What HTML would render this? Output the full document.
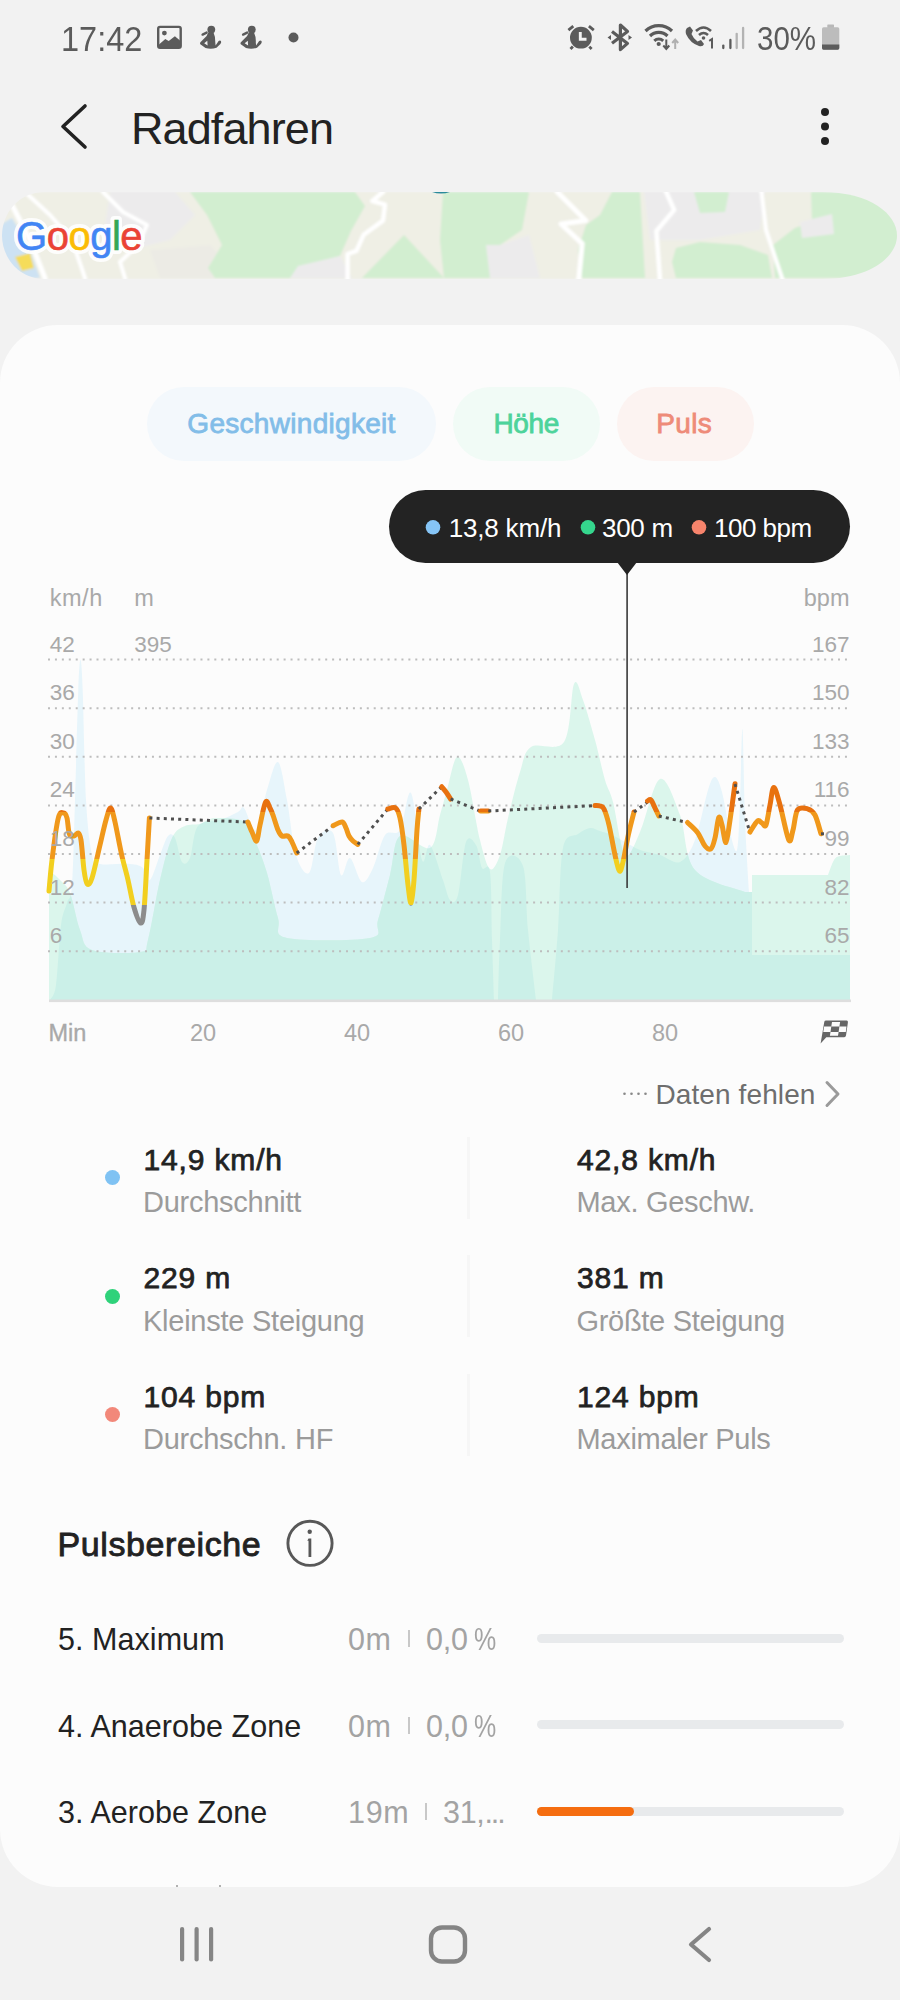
<!DOCTYPE html>
<html><head><meta charset="utf-8"><title>Radfahren</title>
<style>
html,body{margin:0;padding:0;}
body{width:900px;height:2000px;overflow:hidden;background:#f2f2f2;position:relative;font-family:"Liberation Sans", sans-serif;}
.abs{position:absolute;}
.t{position:absolute;white-space:nowrap;line-height:1.117;}
.pill{border-radius:37px;}
</style></head><body>
<svg class="abs" style="left:0;top:0" width="900" height="80"><rect x="158.2" y="26.9" width="22.5" height="20.9" rx="1.8" fill="none" stroke="#5b5b5b" stroke-width="2.4"/><path d="M159 44.5 L165.3 39.1 L168.7 40.9 L174.9 36.2 L180 40.5 L180 47.5 L159 47.5 Z" fill="#5b5b5b"/><circle cx="164.4" cy="33.1" r="2.4" fill="#5b5b5b"/><g transform="translate(195,20)"><circle cx="16.3" cy="9.6" r="3.9" fill="#5b5b5b"/><path d="M7.6 14.6 L11.6 12.6" stroke="#5b5b5b" stroke-width="2.4" stroke-linecap="round"/><path fill-rule="evenodd" d="M13.2 12.5 L18.6 12.8 Q20.6 17 20.3 22.5 L20.6 25.5 L23.6 21 Q25 19.8 26 21 Q26.6 22.5 25.4 24 L21.5 27.8 Q16 29.5 10.5 28 L5.3 24.2 Q4.6 23.2 5.4 22.2 L11.6 16 Z M9.2 23.2 L12.3 20.8 L12.6 25.4 Z" fill="#5b5b5b"/></g><g transform="translate(235.5,20)"><circle cx="16.3" cy="9.6" r="3.9" fill="#5b5b5b"/><path d="M7.6 14.6 L11.6 12.6" stroke="#5b5b5b" stroke-width="2.4" stroke-linecap="round"/><path fill-rule="evenodd" d="M13.2 12.5 L18.6 12.8 Q20.6 17 20.3 22.5 L20.6 25.5 L23.6 21 Q25 19.8 26 21 Q26.6 22.5 25.4 24 L21.5 27.8 Q16 29.5 10.5 28 L5.3 24.2 Q4.6 23.2 5.4 22.2 L11.6 16 Z M9.2 23.2 L12.3 20.8 L12.6 25.4 Z" fill="#5b5b5b"/></g><circle cx="293.5" cy="37.5" r="5" fill="#5b5b5b"/><g><circle cx="580.9" cy="37.7" r="10.9" fill="#5b5b5b"/><path d="M580.3 32 L580.3 39.3 L586.5 39.3" fill="none" stroke="#f2f2f2" stroke-width="2.9"/><path d="M568.4 30.1 L573.3 26.1 M588.9 26.1 L593.8 30.1 M570.5 49 L572.9 46.6 M589.3 46.6 L591.6 49" stroke="#5b5b5b" stroke-width="2.8" stroke-linecap="butt"/></g><g><path d="M612 31.5 L627.5 43.4 L620.4 49.6 L620.4 25 L627.5 31.4 L612 43.3" fill="none" stroke="#5b5b5b" stroke-width="3.2" stroke-linejoin="round"/><path d="M607.5 37.5 L611 35 L611 40 Z M632 37.5 L628.5 35 L628.5 40 Z" fill="#5b5b5b"/></g><g><path d="M645.5 31 A19 19 0 0 1 672 31" fill="none" stroke="#5b5b5b" stroke-width="3.2"/><path d="M650 36 A12.5 12.5 0 0 1 667.5 36" fill="none" stroke="#5b5b5b" stroke-width="3.2"/><path d="M654.3 40.8 A6.5 6.5 0 0 1 663.2 40.8" fill="none" stroke="#5b5b5b" stroke-width="3"/><circle cx="658.7" cy="44" r="2.1" fill="#5b5b5b"/><path d="M666.3 39.5 L666.3 48.5 M663.3 45.5 L666.3 49 L669.3 45.5" fill="none" stroke="#5b5b5b" stroke-width="2"/><path d="M675.2 49 L675.2 40 M672.2 43 L675.2 39.5 L678.2 43" fill="none" stroke="#b0b0b0" stroke-width="2"/></g><g transform="translate(685,24)"><path d="M2 4 Q0 6 1 10 Q5 19 14 22 Q18 23 19 20 L16 16 L12.5 17.5 Q8 14 6.5 10 L8 6.5 L5 2.5 Z" fill="#5b5b5b"/><path d="M11 7 Q18.5 0 26 7" fill="none" stroke="#5b5b5b" stroke-width="2.6"/><path d="M14 11 Q18.5 7 23 11" fill="none" stroke="#5b5b5b" stroke-width="2.6"/><circle cx="18.5" cy="14" r="1.8" fill="#5b5b5b"/><path d="M24.2 16.8 L27 15 L27 24.5" fill="none" stroke="#5b5b5b" stroke-width="2"/></g><g stroke-linecap="round" stroke-width="2.3" fill="none"><path d="M723.3 45.6 L723.3 48" stroke="#5b5b5b"/><path d="M730.4 40 L730.4 48" stroke="#5b5b5b"/><path d="M736.7 33.8 L736.7 48" stroke="#b3b3b3"/><path d="M743.1 28 L743.1 48" stroke="#b3b3b3"/></g><rect x="827.3" y="24.4" width="6.7" height="3.5" rx="0.6" fill="#b8b8b8"/><rect x="822" y="27.3" width="17.3" height="22.4" rx="1.6" fill="#bcbcbc"/><path d="M822 44.5 L839.3 44.5 L839.3 48.1 Q839.3 49.7 837.7 49.7 L823.6 49.7 Q822 49.7 822 48.1 Z" fill="#5b5b5b"/></svg>
<svg class="abs" style="left:0;top:0" width="900" height="180"><path d="M85 106 L63 126.5 L85 147" fill="none" stroke="#222" stroke-width="3.6" stroke-linecap="round" stroke-linejoin="round"/><circle cx="825" cy="112" r="4" fill="#222"/><circle cx="825" cy="126.5" r="4" fill="#222"/><circle cx="825" cy="141" r="4" fill="#222"/></svg>
<div class="t" style="top:103.8px;font-size:45px;color:#222;letter-spacing:-0.9px;left:131.0px;">Radfahren</div>
<div class="t" style="top:19.9px;font-size:35.5px;color:#5b5b5b;left:60.5px;transform:scaleX(0.915);transform-origin:0 0;">17:42</div>
<div class="t" style="top:21.1px;font-size:33px;color:#5b5b5b;left:756.5px;transform:scaleX(0.895);transform-origin:0 0;">30%</div>
<svg class="abs" style="left:0;top:192px" width="900" height="87" viewBox="0 0 900 87"><defs><clipPath id="mc"><path d="M45 0 L822 0 C870 0 897 22 897 43.5 C897 65 870 87 822 87 L45 87 C18 87 2 65 2 43.5 C2 22 18 0 45 0 Z"/></clipPath><filter id="mblur" x="-5%" y="-20%" width="110%" height="140%"><feGaussianBlur stdDeviation="1.2"/></filter></defs><g clip-path="url(#mc)"><g filter="url(#mblur)"><rect x="0" y="0" width="900" height="87" fill="#efefe5"/><path d="M110.0 0.0 L175.0 0.0 L195.0 23.0 L170.0 48.0 L130.0 58.0 L105.0 33.0 Z" fill="#ecebec"/><path d="M150.0 58.0 L210.0 53.0 L240.0 86.0 L160.0 86.0 Z" fill="#ecebe5"/><path d="M190.0 0.0 L355.0 0.0 L365.0 14.0 L351.0 39.0 L340.0 64.0 L301.0 75.0 L290.0 86.0 L215.0 86.0 L208.0 76.0 L222.0 53.0 L207.0 23.0 Z" fill="#d2eed0"/><path d="M298.0 74.0 L340.0 64.0 L352.0 86.0 L290.0 86.0 Z" fill="#ecebec"/><path d="M362.0 86.0 L404.0 43.0 L444.0 86.0 Z" fill="#d2eed0"/><path d="M443.0 0.0 L529.0 0.0 L522.0 38.0 L500.0 53.0 L490.0 86.0 L444.0 86.0 L440.0 48.0 Z" fill="#d2eed0"/><path d="M486.0 53.0 L500.0 53.0 L529.0 43.0 L540.0 86.0 L490.0 86.0 Z" fill="#ecebec"/><path d="M586.0 33.0 L600.0 23.0 L612.0 0.0 L640.0 0.0 L645.0 86.0 L582.0 86.0 L578.0 58.0 Z" fill="#d2eed0"/><path d="M644.0 0.0 L765.0 0.0 L760.0 38.0 L700.0 48.0 L650.0 48.0 Z" fill="#ecebec"/><path d="M694.0 0.0 L729.0 0.0 L725.0 20.0 L700.0 21.0 Z" fill="#d2eed0"/><path d="M676.0 56.0 L700.0 50.0 L740.0 53.0 L768.0 63.0 L772.0 86.0 L676.0 86.0 L672.0 70.0 Z" fill="#d2eed0"/><path d="M775.0 86.0 L773.0 53.0 L795.0 36.0 L812.0 30.0 L811.0 0.0 L900.0 0.0 L900.0 86.0 Z" fill="#d2eed0"/><path d="M800.0 30.0 L832.0 22.0 L834.0 42.0 L802.0 46.0 Z" fill="#ecebec"/><path d="M0.0 33.0 L12.0 26.0 L28.0 53.0 L40.0 86.0 L0.0 86.0 Z" fill="#cde2f3"/><path d="M15.0 65.0 L30.0 61.0 L34.0 76.0 L22.0 79.0 Z" fill="#f5dc5a"/><path d="M12.0 13.0 L30.0 48.0 L45.0 86.0" fill="none" stroke="#ffffff" stroke-width="5" stroke-linejoin="round" stroke-linecap="round"/><path d="M25.0 0.0 L50.0 23.0 L72.0 48.0 L85.0 86.0" fill="none" stroke="#ffffff" stroke-width="4" stroke-linejoin="round" stroke-linecap="round"/><path d="M103.0 0.0 L123.0 20.0 L147.0 33.0 L138.0 53.0 L120.0 70.0 L125.0 86.0" fill="none" stroke="#ffffff" stroke-width="4" stroke-linejoin="round" stroke-linecap="round"/><path d="M383.0 0.0 L372.4 9.0 L385.0 12.6 L383.0 28.6 L363.6 42.8 L356.4 58.8 L347.6 62.0 L347.6 88.0" fill="none" stroke="#ffffff" stroke-width="4.5" stroke-linejoin="round" stroke-linecap="round"/><path d="M557.3 0.0 L585.8 28.6 L561.0 32.0 L582.2 51.7 L578.7 88.0" fill="none" stroke="#ffffff" stroke-width="5" stroke-linejoin="round" stroke-linecap="round"/><path d="M665.3 -2.0 L674.2 18.0 L656.4 39.0 L660.0 88.0" fill="none" stroke="#ffffff" stroke-width="4.5" stroke-linejoin="round" stroke-linecap="round"/><path d="M761.3 -2.0 L766.0 38.0 L782.7 88.0" fill="none" stroke="#ffffff" stroke-width="4" stroke-linejoin="round" stroke-linecap="round"/></g></g><path d="M432 0 L450 0 Q441 3.2 432 0 Z" fill="#2a8a9a"/><text x="16" y="58" font-family="Liberation Sans" font-size="40" fill="#fff" stroke="#fff" stroke-width="8" stroke-linejoin="round" letter-spacing="-0.5" opacity="0.9">Google</text><text x="16" y="58" font-family="Liberation Sans" font-size="40" stroke-width="0.6" letter-spacing="-0.5" style="paint-order:stroke"><tspan fill="#4285f4" stroke="#4285f4">G</tspan><tspan fill="#ea4335" stroke="#ea4335">o</tspan><tspan fill="#fbbc05" stroke="#fbbc05">o</tspan><tspan fill="#4285f4" stroke="#4285f4">g</tspan><tspan fill="#34a853" stroke="#34a853">l</tspan><tspan fill="#ea4335" stroke="#ea4335">e</tspan></text></svg>
<div class="abs" style="left:0;top:325px;width:900px;height:1562px;background:#fcfcfc;border-radius:58px;"></div>
<div class="abs pill" style="left:147px;top:387px;width:289px;height:74px;background:#f3f8fc"></div>
<div class="abs pill" style="left:453px;top:387px;width:147px;height:74px;background:#f1fbf6"></div>
<div class="abs pill" style="left:617px;top:387px;width:137px;height:74px;background:#fcf3f1"></div>
<div class="t" style="top:408.2px;font-size:28px;color:#82bde8;letter-spacing:0.3px;left:187.3px;-webkit-text-stroke:0.8px #82bde8;">Geschwindigkeit</div>
<div class="t" style="top:408.2px;font-size:28px;color:#4dd39b;letter-spacing:-0.4px;left:493.5px;-webkit-text-stroke:0.8px #4dd39b;">Höhe</div>
<div class="t" style="top:408.2px;font-size:28px;color:#ee8b79;letter-spacing:0.3px;left:656.3px;-webkit-text-stroke:0.8px #ee8b79;">Puls</div>
<svg class="abs" style="left:0;top:560px" width="900" height="500" viewBox="0 560 900 500"><defs><clipPath id="clipB"><path d="M49.0 1000.0 L50.0 1000.0 L50.0 1000.0 C51.0 997.5 54.2 997.5 56.0 985.0 C57.8 972.5 59.2 938.7 61.0 925.0 C62.8 911.3 65.2 909.7 67.0 903.0 C68.8 896.3 70.7 902.2 72.0 885.0 C73.3 867.8 74.0 832.5 75.0 800.0 C76.0 767.5 77.4 713.3 78.3 690.0 C79.2 666.7 79.8 660.0 80.5 660.0 C81.2 660.0 81.8 666.7 82.7 690.0 C83.6 713.3 84.5 772.5 86.0 800.0 C87.5 827.5 89.7 844.3 92.0 855.0 C94.3 865.7 93.7 862.5 100.0 864.0 C106.3 865.5 122.8 863.3 130.0 864.0 C137.2 864.7 139.7 865.3 143.0 868.0 C146.3 870.7 147.2 882.2 150.0 880.0 C152.8 877.8 157.0 862.3 160.0 855.0 C163.0 847.7 165.5 838.8 168.0 836.0 C170.5 833.2 172.7 833.7 175.0 838.0 C177.3 842.3 179.5 858.7 182.0 862.0 C184.5 865.3 187.3 864.0 190.0 858.0 C192.7 852.0 193.0 832.3 198.0 826.0 C203.0 819.7 213.3 822.3 220.0 820.0 C226.7 817.7 234.0 814.0 238.0 812.0 C242.0 810.0 241.0 805.0 244.0 808.0 C247.0 811.0 252.2 833.0 256.0 830.0 C259.8 827.0 263.3 801.3 267.0 790.0 C270.7 778.7 274.7 760.3 278.0 762.0 C281.3 763.7 284.0 784.5 287.0 800.0 C290.0 815.5 292.3 842.8 296.0 855.0 C299.7 867.2 305.3 875.8 309.0 873.0 C312.7 870.2 314.0 844.7 318.0 838.0 C322.0 831.3 329.2 826.8 333.0 833.0 C336.8 839.2 338.2 870.8 341.0 875.0 C343.8 879.2 346.5 856.8 350.0 858.0 C353.5 859.2 358.2 880.3 362.0 882.0 C365.8 883.7 369.2 875.8 373.0 868.0 C376.8 860.2 380.5 841.3 385.0 835.0 C389.5 828.7 395.7 837.0 400.0 830.0 C404.3 823.0 407.3 788.0 411.0 793.0 C414.7 798.0 418.8 851.3 422.0 860.0 C425.2 868.7 426.5 841.7 430.0 845.0 C433.5 848.3 439.7 870.8 443.0 880.0 C446.3 889.2 447.5 897.5 450.0 900.0 C452.5 902.5 455.3 904.7 458.0 895.0 C460.7 885.3 463.0 850.3 466.0 842.0 C469.0 833.7 473.3 840.7 476.0 845.0 C478.7 849.3 479.7 863.5 482.0 868.0 C484.3 872.5 488.3 860.0 490.0 872.0 C491.7 884.0 491.3 918.7 492.0 940.0 C492.7 961.3 493.7 990.0 494.0 1000.0 L498.0 1000.0 C498.3 990.0 498.8 962.8 500.0 940.0 C501.2 917.2 501.2 875.3 505.0 863.0 C508.8 850.7 519.2 854.8 523.0 866.0 C526.8 877.2 525.8 907.7 528.0 930.0 C530.2 952.3 534.7 988.3 536.0 1000.0 L552.0 1000.0 C553.0 988.3 556.2 955.3 558.0 930.0 C559.8 904.7 559.7 864.0 563.0 848.0 C566.3 832.0 573.5 837.3 578.0 834.0 C582.5 830.7 586.3 828.5 590.0 828.0 C593.7 827.5 596.3 829.8 600.0 831.0 C603.7 832.2 607.8 833.2 612.0 835.0 C616.2 836.8 620.3 839.5 625.0 842.0 C629.7 844.5 634.2 847.8 640.0 850.0 C645.8 852.2 653.3 853.0 660.0 855.0 C666.7 857.0 674.2 864.5 680.0 862.0 C685.8 859.5 690.3 852.0 695.0 840.0 C699.7 828.0 704.7 800.5 708.0 790.0 C711.3 779.5 712.7 776.7 715.0 777.0 C717.3 777.3 719.5 782.8 722.0 792.0 C724.5 801.2 727.5 822.3 730.0 832.0 C732.5 841.7 735.3 855.3 737.0 850.0 C738.7 844.7 739.1 820.2 740.0 800.0 C740.9 779.8 741.7 725.7 742.5 729.0 C743.3 732.3 743.9 792.8 745.0 820.0 C746.1 847.2 748.3 880.0 749.0 892.0 L752.0 892.0 L752.0 955.0 L850.0 955.0 L850.0 1000.0 Z"/></clipPath><linearGradient id="hrg" gradientUnits="userSpaceOnUse" x1="0" y1="760" x2="0" y2="940"><stop offset="0" stop-color="#e8710f"/><stop offset="0.289" stop-color="#e8710f"/><stop offset="0.289" stop-color="#f0981b"/><stop offset="0.55" stop-color="#f0981b"/><stop offset="0.55" stop-color="#f2cf1f"/><stop offset="0.805" stop-color="#f2cf1f"/><stop offset="0.805" stop-color="#8c8c8c"/><stop offset="1" stop-color="#8c8c8c"/></linearGradient></defs><path d="M49.0 1000.0 L50.0 1000.0 L50.0 1000.0 C51.0 997.5 54.2 997.5 56.0 985.0 C57.8 972.5 59.2 938.7 61.0 925.0 C62.8 911.3 65.2 909.7 67.0 903.0 C68.8 896.3 70.7 902.2 72.0 885.0 C73.3 867.8 74.0 832.5 75.0 800.0 C76.0 767.5 77.4 713.3 78.3 690.0 C79.2 666.7 79.8 660.0 80.5 660.0 C81.2 660.0 81.8 666.7 82.7 690.0 C83.6 713.3 84.5 772.5 86.0 800.0 C87.5 827.5 89.7 844.3 92.0 855.0 C94.3 865.7 93.7 862.5 100.0 864.0 C106.3 865.5 122.8 863.3 130.0 864.0 C137.2 864.7 139.7 865.3 143.0 868.0 C146.3 870.7 147.2 882.2 150.0 880.0 C152.8 877.8 157.0 862.3 160.0 855.0 C163.0 847.7 165.5 838.8 168.0 836.0 C170.5 833.2 172.7 833.7 175.0 838.0 C177.3 842.3 179.5 858.7 182.0 862.0 C184.5 865.3 187.3 864.0 190.0 858.0 C192.7 852.0 193.0 832.3 198.0 826.0 C203.0 819.7 213.3 822.3 220.0 820.0 C226.7 817.7 234.0 814.0 238.0 812.0 C242.0 810.0 241.0 805.0 244.0 808.0 C247.0 811.0 252.2 833.0 256.0 830.0 C259.8 827.0 263.3 801.3 267.0 790.0 C270.7 778.7 274.7 760.3 278.0 762.0 C281.3 763.7 284.0 784.5 287.0 800.0 C290.0 815.5 292.3 842.8 296.0 855.0 C299.7 867.2 305.3 875.8 309.0 873.0 C312.7 870.2 314.0 844.7 318.0 838.0 C322.0 831.3 329.2 826.8 333.0 833.0 C336.8 839.2 338.2 870.8 341.0 875.0 C343.8 879.2 346.5 856.8 350.0 858.0 C353.5 859.2 358.2 880.3 362.0 882.0 C365.8 883.7 369.2 875.8 373.0 868.0 C376.8 860.2 380.5 841.3 385.0 835.0 C389.5 828.7 395.7 837.0 400.0 830.0 C404.3 823.0 407.3 788.0 411.0 793.0 C414.7 798.0 418.8 851.3 422.0 860.0 C425.2 868.7 426.5 841.7 430.0 845.0 C433.5 848.3 439.7 870.8 443.0 880.0 C446.3 889.2 447.5 897.5 450.0 900.0 C452.5 902.5 455.3 904.7 458.0 895.0 C460.7 885.3 463.0 850.3 466.0 842.0 C469.0 833.7 473.3 840.7 476.0 845.0 C478.7 849.3 479.7 863.5 482.0 868.0 C484.3 872.5 488.3 860.0 490.0 872.0 C491.7 884.0 491.3 918.7 492.0 940.0 C492.7 961.3 493.7 990.0 494.0 1000.0 L498.0 1000.0 C498.3 990.0 498.8 962.8 500.0 940.0 C501.2 917.2 501.2 875.3 505.0 863.0 C508.8 850.7 519.2 854.8 523.0 866.0 C526.8 877.2 525.8 907.7 528.0 930.0 C530.2 952.3 534.7 988.3 536.0 1000.0 L552.0 1000.0 C553.0 988.3 556.2 955.3 558.0 930.0 C559.8 904.7 559.7 864.0 563.0 848.0 C566.3 832.0 573.5 837.3 578.0 834.0 C582.5 830.7 586.3 828.5 590.0 828.0 C593.7 827.5 596.3 829.8 600.0 831.0 C603.7 832.2 607.8 833.2 612.0 835.0 C616.2 836.8 620.3 839.5 625.0 842.0 C629.7 844.5 634.2 847.8 640.0 850.0 C645.8 852.2 653.3 853.0 660.0 855.0 C666.7 857.0 674.2 864.5 680.0 862.0 C685.8 859.5 690.3 852.0 695.0 840.0 C699.7 828.0 704.7 800.5 708.0 790.0 C711.3 779.5 712.7 776.7 715.0 777.0 C717.3 777.3 719.5 782.8 722.0 792.0 C724.5 801.2 727.5 822.3 730.0 832.0 C732.5 841.7 735.3 855.3 737.0 850.0 C738.7 844.7 739.1 820.2 740.0 800.0 C740.9 779.8 741.7 725.7 742.5 729.0 C743.3 732.3 743.9 792.8 745.0 820.0 C746.1 847.2 748.3 880.0 749.0 892.0 L752.0 892.0 L752.0 955.0 L850.0 955.0 L850.0 1000.0 Z" fill="#e7f5fb"/><path d="M49.0 1000.0 L49.0 870.0 L49.0 870.0 C50.8 871.7 56.5 876.2 60.0 880.0 C63.5 883.8 66.7 884.7 70.0 893.0 C73.3 901.3 76.3 920.5 80.0 930.0 C83.7 939.5 82.0 946.3 92.0 950.0 C102.0 953.7 130.7 953.7 140.0 952.0 C149.3 950.3 144.7 952.0 148.0 940.0 C151.3 928.0 156.0 897.0 160.0 880.0 C164.0 863.0 167.8 847.0 172.0 838.0 C176.2 829.0 180.3 828.3 185.0 826.0 C189.7 823.7 195.0 825.3 200.0 824.0 C205.0 822.7 207.5 818.3 215.0 818.0 C222.5 817.7 238.2 817.8 245.0 822.0 C251.8 826.2 252.3 834.5 256.0 843.0 C259.7 851.5 263.3 860.5 267.0 873.0 C270.7 885.5 274.7 907.2 278.0 918.0 C281.3 928.8 271.7 934.7 287.0 938.0 C302.3 941.3 354.8 941.0 370.0 938.0 C385.2 935.0 374.7 930.5 378.0 920.0 C381.3 909.5 386.3 889.0 390.0 875.0 C393.7 861.0 393.3 840.5 400.0 836.0 C406.7 831.5 423.3 851.5 430.0 848.0 C436.7 844.5 437.2 824.7 440.0 815.0 C442.8 805.3 444.2 799.7 447.0 790.0 C449.8 780.3 453.5 758.7 457.0 757.0 C460.5 755.3 464.2 766.2 468.0 780.0 C471.8 793.8 476.3 825.2 480.0 840.0 C483.7 854.8 486.7 866.5 490.0 869.0 C493.3 871.5 497.0 863.5 500.0 855.0 C503.0 846.5 504.7 831.8 508.0 818.0 C511.3 804.2 516.2 783.8 520.0 772.0 C523.8 760.2 523.7 752.0 531.0 747.0 C538.3 742.0 556.8 752.5 564.0 742.0 C571.2 731.5 570.8 691.0 574.0 684.0 C577.2 677.0 579.5 690.7 583.0 700.0 C586.5 709.3 591.3 726.7 595.0 740.0 C598.7 753.3 602.0 769.7 605.0 780.0 C608.0 790.3 609.7 789.5 613.0 802.0 C616.3 814.5 620.5 850.0 625.0 855.0 C629.5 860.0 634.2 844.7 640.0 832.0 C645.8 819.3 653.3 781.8 660.0 779.0 C666.7 776.2 674.2 799.8 680.0 815.0 C685.8 830.2 684.2 857.2 695.0 870.0 C705.8 882.8 736.7 888.3 745.0 892.0 L752.0 892.0 L752.0 875.0 L828.0 875.0 C829.0 872.5 832.0 863.2 834.0 860.0 C836.0 856.8 837.3 856.8 840.0 856.0 C842.7 855.2 848.3 855.2 850.0 855.0 L850.0 1000.0 L850.0 1000.0 Z" fill="#dbf6ec"/><path d="M49.0 1000.0 L49.0 870.0 L49.0 870.0 C50.8 871.7 56.5 876.2 60.0 880.0 C63.5 883.8 66.7 884.7 70.0 893.0 C73.3 901.3 76.3 920.5 80.0 930.0 C83.7 939.5 82.0 946.3 92.0 950.0 C102.0 953.7 130.7 953.7 140.0 952.0 C149.3 950.3 144.7 952.0 148.0 940.0 C151.3 928.0 156.0 897.0 160.0 880.0 C164.0 863.0 167.8 847.0 172.0 838.0 C176.2 829.0 180.3 828.3 185.0 826.0 C189.7 823.7 195.0 825.3 200.0 824.0 C205.0 822.7 207.5 818.3 215.0 818.0 C222.5 817.7 238.2 817.8 245.0 822.0 C251.8 826.2 252.3 834.5 256.0 843.0 C259.7 851.5 263.3 860.5 267.0 873.0 C270.7 885.5 274.7 907.2 278.0 918.0 C281.3 928.8 271.7 934.7 287.0 938.0 C302.3 941.3 354.8 941.0 370.0 938.0 C385.2 935.0 374.7 930.5 378.0 920.0 C381.3 909.5 386.3 889.0 390.0 875.0 C393.7 861.0 393.3 840.5 400.0 836.0 C406.7 831.5 423.3 851.5 430.0 848.0 C436.7 844.5 437.2 824.7 440.0 815.0 C442.8 805.3 444.2 799.7 447.0 790.0 C449.8 780.3 453.5 758.7 457.0 757.0 C460.5 755.3 464.2 766.2 468.0 780.0 C471.8 793.8 476.3 825.2 480.0 840.0 C483.7 854.8 486.7 866.5 490.0 869.0 C493.3 871.5 497.0 863.5 500.0 855.0 C503.0 846.5 504.7 831.8 508.0 818.0 C511.3 804.2 516.2 783.8 520.0 772.0 C523.8 760.2 523.7 752.0 531.0 747.0 C538.3 742.0 556.8 752.5 564.0 742.0 C571.2 731.5 570.8 691.0 574.0 684.0 C577.2 677.0 579.5 690.7 583.0 700.0 C586.5 709.3 591.3 726.7 595.0 740.0 C598.7 753.3 602.0 769.7 605.0 780.0 C608.0 790.3 609.7 789.5 613.0 802.0 C616.3 814.5 620.5 850.0 625.0 855.0 C629.5 860.0 634.2 844.7 640.0 832.0 C645.8 819.3 653.3 781.8 660.0 779.0 C666.7 776.2 674.2 799.8 680.0 815.0 C685.8 830.2 684.2 857.2 695.0 870.0 C705.8 882.8 736.7 888.3 745.0 892.0 L752.0 892.0 L752.0 875.0 L828.0 875.0 C829.0 872.5 832.0 863.2 834.0 860.0 C836.0 856.8 837.3 856.8 840.0 856.0 C842.7 855.2 848.3 855.2 850.0 855.0 L850.0 1000.0 L850.0 1000.0 Z" fill="#cbf0e8" clip-path="url(#clipB)"/><line x1="48" y1="659.6" x2="851" y2="659.6" stroke="#bdbdbd" stroke-width="2" stroke-dasharray="2 4.93"/><line x1="48" y1="708.2" x2="851" y2="708.2" stroke="#bdbdbd" stroke-width="2" stroke-dasharray="2 4.93"/><line x1="48" y1="756.8" x2="851" y2="756.8" stroke="#bdbdbd" stroke-width="2" stroke-dasharray="2 4.93"/><line x1="48" y1="805.4" x2="851" y2="805.4" stroke="#bdbdbd" stroke-width="2" stroke-dasharray="2 4.93"/><line x1="48" y1="854.0" x2="851" y2="854.0" stroke="#bdbdbd" stroke-width="2" stroke-dasharray="2 4.93"/><line x1="48" y1="902.6" x2="851" y2="902.6" stroke="#bdbdbd" stroke-width="2" stroke-dasharray="2 4.93"/><line x1="48" y1="951.2" x2="851" y2="951.2" stroke="#bdbdbd" stroke-width="2" stroke-dasharray="2 4.93"/><rect x="49" y="999.5" width="802" height="2.6" fill="#dedede"/><path d="M49.0 891.0 C49.5 885.8 50.5 872.2 52.0 860.0 C53.5 847.8 56.3 825.8 58.3 818.0 C60.3 810.2 62.4 813.0 63.9 813.0 C65.3 813.0 66.1 814.5 67.0 818.0 C67.9 821.5 68.2 831.0 69.4 834.0 C70.6 837.0 72.5 836.2 74.0 836.0 C75.5 835.8 77.1 832.3 78.3 833.0 C79.5 833.7 80.0 833.8 81.0 840.0 C82.0 846.2 83.0 862.7 84.0 870.0 C85.0 877.3 85.9 882.7 87.2 884.0 C88.5 885.3 89.9 884.5 92.0 878.0 C94.1 871.5 97.7 854.7 100.0 845.0 C102.3 835.3 104.2 826.2 106.0 820.0 C107.8 813.8 109.1 807.7 110.6 808.0 C112.1 808.3 113.2 814.2 115.0 822.0 C116.8 829.8 119.5 845.3 121.7 855.0 C123.9 864.7 126.0 871.3 128.0 880.0 C130.0 888.7 131.8 899.8 133.9 907.0 C136.0 914.2 138.9 922.5 140.6 923.0 C142.3 923.5 142.9 920.5 144.0 910.0 C145.1 899.5 146.1 875.3 147.0 860.0 C147.9 844.7 149.0 825.0 149.4 818.0" fill="none" stroke="url(#hrg)" stroke-width="5" stroke-linecap="round" stroke-linejoin="round"/><path d="M149.4 818.0 L247.8 822.0" fill="none" stroke="#4f4f4f" stroke-width="3" stroke-dasharray="3 4.2"/><path d="M247.8 822.0 C248.5 823.7 250.5 828.8 252.0 832.0 C253.5 835.2 255.4 842.2 256.7 841.0 C258.0 839.8 258.5 831.5 260.0 825.0 C261.5 818.5 263.9 804.8 265.6 802.0 C267.3 799.2 268.7 805.7 270.0 808.0 C271.3 810.3 272.0 812.3 273.3 816.0 C274.6 819.7 276.6 826.7 278.0 830.0 C279.4 833.3 280.3 835.0 282.0 836.0 C283.7 837.0 286.3 835.0 288.0 836.0 C289.7 837.0 290.6 839.2 292.0 842.0 C293.4 844.8 295.9 851.2 296.7 853.0" fill="none" stroke="url(#hrg)" stroke-width="5" stroke-linecap="round" stroke-linejoin="round"/><path d="M296.7 853.0 L333.3 825.6" fill="none" stroke="#4f4f4f" stroke-width="3" stroke-dasharray="3 4.2"/><path d="M333.3 825.6 C334.8 825.0 340.1 821.6 342.2 822.0 C344.3 822.4 344.9 825.7 346.0 828.0 C347.1 830.3 347.8 833.8 349.0 836.0 C350.2 838.2 351.5 839.6 353.0 841.0 C354.5 842.4 357.0 843.8 357.8 844.4" fill="none" stroke="url(#hrg)" stroke-width="5" stroke-linecap="round" stroke-linejoin="round"/><path d="M357.8 844.4 L387.8 809.0" fill="none" stroke="#4f4f4f" stroke-width="3" stroke-dasharray="3 4.2"/><path d="M387.8 809.0 C389.1 808.8 393.6 806.5 395.6 808.0 C397.6 809.5 398.6 811.8 400.0 818.0 C401.4 824.2 402.7 833.8 404.0 845.0 C405.3 856.2 406.8 875.3 408.0 885.0 C409.2 894.7 410.1 903.8 411.1 903.0 C412.1 902.2 413.0 892.2 414.0 880.0 C415.0 867.8 416.2 841.8 417.0 830.0 C417.8 818.2 418.6 812.5 418.9 809.0" fill="none" stroke="url(#hrg)" stroke-width="5" stroke-linecap="round" stroke-linejoin="round"/><path d="M418.9 809.0 L441.7 786.7" fill="none" stroke="#4f4f4f" stroke-width="3" stroke-dasharray="3 4.2"/><path d="M441.7 786.7 C442.4 787.6 444.5 790.0 446.0 792.0 C447.5 794.0 449.8 797.8 450.6 799.0" fill="none" stroke="url(#hrg)" stroke-width="5" stroke-linecap="round" stroke-linejoin="round"/><path d="M450.6 799.0 L480.0 811.0" fill="none" stroke="#4f4f4f" stroke-width="3" stroke-dasharray="3 4.2"/><path d="M480.6 811.0 L488.3 811.0" fill="none" stroke="url(#hrg)" stroke-width="5" stroke-linecap="round" stroke-linejoin="round"/><path d="M488.3 811.0 L595.0 805.6" fill="none" stroke="#4f4f4f" stroke-width="3" stroke-dasharray="3 4.2"/><path d="M595.0 805.6 C595.8 805.7 598.5 805.4 600.0 806.0 C601.5 806.6 602.5 805.8 604.0 809.0 C605.5 812.2 607.2 817.3 609.0 825.0 C610.8 832.7 613.3 847.3 615.0 855.0 C616.7 862.7 618.1 869.8 619.4 871.0 C620.7 872.2 621.5 868.0 623.0 862.0 C624.5 856.0 626.5 843.3 628.3 835.0 C630.1 826.7 633.0 815.8 634.0 812.0" fill="none" stroke="url(#hrg)" stroke-width="5" stroke-linecap="round" stroke-linejoin="round"/><path d="M634.0 812.0 L647.5 802.0" fill="none" stroke="#4f4f4f" stroke-width="3" stroke-dasharray="3 4.2"/><path d="M647.5 801.0 C648.1 800.8 649.8 798.8 651.0 800.0 C652.2 801.2 653.7 805.3 655.0 808.0 C656.3 810.7 658.2 814.7 658.8 816.0" fill="none" stroke="url(#hrg)" stroke-width="5" stroke-linecap="round" stroke-linejoin="round"/><path d="M658.8 816.0 L687.5 822.5" fill="none" stroke="#4f4f4f" stroke-width="3" stroke-dasharray="3 4.2"/><path d="M687.5 822.5 C689.2 824.2 694.6 828.6 697.5 832.5 C700.4 836.4 702.8 843.3 705.0 846.0 C707.2 848.7 709.3 850.1 711.0 848.8 C712.7 847.5 713.7 843.2 715.0 838.0 C716.3 832.8 717.6 819.7 718.8 817.5 C720.0 815.3 720.8 820.8 722.0 825.0 C723.2 829.2 724.7 843.3 726.0 842.5 C727.3 841.7 728.5 829.8 730.0 820.0 C731.5 810.2 734.2 789.8 735.0 783.8" fill="none" stroke="url(#hrg)" stroke-width="5" stroke-linecap="round" stroke-linejoin="round"/><path d="M735.0 784.0 L750.0 832.5" fill="none" stroke="#4f4f4f" stroke-width="3" stroke-dasharray="3 4.2"/><path d="M750.0 832.0 C751.2 830.2 755.5 822.5 757.5 821.0 C759.5 819.5 760.6 822.3 762.0 823.0 C763.4 823.7 764.7 828.0 766.0 825.0 C767.3 822.0 768.7 811.2 770.0 805.0 C771.3 798.8 772.1 787.5 773.8 787.5 C775.5 787.5 777.5 796.2 780.0 805.0 C782.5 813.8 786.6 835.8 788.8 840.0 C791.0 844.2 791.5 835.0 793.0 830.0 C794.5 825.0 795.1 813.5 797.5 810.0 C799.9 806.5 804.6 808.0 807.5 808.8 C810.4 809.6 812.8 810.8 815.0 815.0 C817.2 819.2 820.0 830.7 821.0 833.8" fill="none" stroke="url(#hrg)" stroke-width="5" stroke-linecap="round" stroke-linejoin="round"/><path d="M821.0 833.8 L827.5 833.8" fill="none" stroke="#4f4f4f" stroke-width="3" stroke-dasharray="3 4.2"/><rect x="626.3" y="562" width="1.6" height="326" fill="#3a3a3a"/><g transform="translate(820,1020)"><path d="M4.3 1.8 Q4.6 0.6 6 0.6 L26.6 0.6 Q28.2 0.7 27.9 2.4 L26 15.6 Q25.7 17.2 24.2 17.2 L6.3 17.2 L0.6 23.6 Z" fill="#666"/><path d="M12 2.1 L20.1 2.1 L19.4 6.6 L11.3 6.6 Z M4.1 6.6 L11.3 6.6 L10.5 11.9 L3.3 11.9 Z M19.4 6.6 L26.5 6.6 L25.8 11.9 L18.6 11.9 Z M10.5 11.9 L18.6 11.9 L18 15.8 L9.9 15.8 Z" fill="#fcfcfc"/></g></svg>
<div class="t" style="top:585.0px;font-size:23.5px;color:#a9a9a9;letter-spacing:0.5px;left:49.8px;">km/h</div>
<div class="t" style="top:585.0px;font-size:23.5px;color:#a9a9a9;left:134.2px;">m</div>
<div class="t" style="top:585.0px;font-size:23.5px;color:#a9a9a9;right:50.5px;">bpm</div>
<div class="t" style="top:631.6px;font-size:22.5px;color:#a9a9a9;left:49.8px;">42</div>
<div class="t" style="top:631.6px;font-size:22.5px;color:#a9a9a9;right:50.5px;">167</div>
<div class="t" style="top:680.2px;font-size:22.5px;color:#a9a9a9;left:49.8px;">36</div>
<div class="t" style="top:680.2px;font-size:22.5px;color:#a9a9a9;right:50.5px;">150</div>
<div class="t" style="top:728.8px;font-size:22.5px;color:#a9a9a9;left:49.8px;">30</div>
<div class="t" style="top:728.8px;font-size:22.5px;color:#a9a9a9;right:50.5px;">133</div>
<div class="t" style="top:777.4px;font-size:22.5px;color:#a9a9a9;left:49.8px;">24</div>
<div class="t" style="top:777.4px;font-size:22.5px;color:#a9a9a9;right:50.5px;">116</div>
<div class="t" style="top:826.0px;font-size:22.5px;color:#a9a9a9;left:49.8px;">18</div>
<div class="t" style="top:826.0px;font-size:22.5px;color:#a9a9a9;right:50.5px;">99</div>
<div class="t" style="top:874.6px;font-size:22.5px;color:#a9a9a9;left:49.8px;">12</div>
<div class="t" style="top:874.6px;font-size:22.5px;color:#a9a9a9;right:50.5px;">82</div>
<div class="t" style="top:923.2px;font-size:22.5px;color:#a9a9a9;left:49.8px;">6</div>
<div class="t" style="top:923.2px;font-size:22.5px;color:#a9a9a9;right:50.5px;">65</div>
<div class="t" style="top:631.6px;font-size:22.5px;color:#a9a9a9;left:134.2px;">395</div>
<div class="t" style="top:1019.7px;font-size:23.5px;color:#a9a9a9;left:48.4px;-webkit-text-stroke:0.35px #a9a9a9;">Min</div>
<div class="t" style="top:1019.7px;font-size:23.5px;color:#a9a9a9;left:-97.0px;width:600px;text-align:center;">20</div>
<div class="t" style="top:1019.7px;font-size:23.5px;color:#a9a9a9;left:57.0px;width:600px;text-align:center;">40</div>
<div class="t" style="top:1019.7px;font-size:23.5px;color:#a9a9a9;left:211.0px;width:600px;text-align:center;">60</div>
<div class="t" style="top:1019.7px;font-size:23.5px;color:#a9a9a9;left:365.0px;width:600px;text-align:center;">80</div>
<div class="abs" style="left:388.5px;top:489.5px;width:461px;height:73px;border-radius:36.5px;background:#232323"></div>
<svg class="abs" style="left:600px;top:560px" width="60" height="20"><path d="M17 2 L37 2 L27 15 Z" fill="#232323"/></svg>
<svg class="abs" style="left:400px;top:500px" width="400" height="50"><circle cx="33" cy="27.3" r="7.3" fill="#86c5f6"/><circle cx="188" cy="27.3" r="7.3" fill="#35d68d"/><circle cx="299" cy="27.3" r="7.3" fill="#f7846c"/></svg>
<div class="t" style="top:513.8px;font-size:26px;color:#fff;letter-spacing:-0.2px;left:448.8px;">13,8 km/h</div>
<div class="t" style="top:513.8px;font-size:26px;color:#fff;letter-spacing:-0.3px;left:602.0px;">300 m</div>
<div class="t" style="top:513.8px;font-size:26px;color:#fff;letter-spacing:-0.5px;left:714.0px;">100 bpm</div>
<svg class="abs" style="left:600px;top:1070px" width="260" height="50"><circle cx="24.5" cy="23.8" r="1.3" fill="#888"/><circle cx="31.5" cy="23.8" r="1.3" fill="#888"/><circle cx="38.5" cy="23.8" r="1.3" fill="#888"/><circle cx="45.5" cy="23.8" r="1.3" fill="#888"/><path d="M227 12.5 L238 24 L227 35.5" fill="none" stroke="#9a9a9a" stroke-width="3" stroke-linecap="round" stroke-linejoin="round"/></svg>
<div class="t" style="top:1079.4px;font-size:28px;color:#6e6e6e;letter-spacing:0.1px;left:655.5px;">Daten fehlen</div>
<div class="abs" style="left:105px;top:1170.0px;width:15px;height:15px;border-radius:50%;background:#7fc2f3"></div>
<div class="t" style="top:1142.8px;font-size:30px;color:#222;letter-spacing:0.85px;left:143.5px;-webkit-text-stroke:0.75px #222;">14,9 km/h</div>
<div class="t" style="top:1186.1px;font-size:29px;color:#9b9b9b;letter-spacing:-0.25px;left:143.0px;">Durchschnitt</div>
<div class="t" style="top:1142.8px;font-size:30px;color:#222;letter-spacing:0.85px;left:577.0px;-webkit-text-stroke:0.75px #222;">42,8 km/h</div>
<div class="t" style="top:1186.1px;font-size:29px;color:#9b9b9b;letter-spacing:-0.3px;left:576.5px;">Max. Geschw.</div>
<div class="abs" style="left:466.5px;top:1136.5px;width:3px;height:82px;background:#f6f6f6"></div>
<div class="abs" style="left:105px;top:1288.5px;width:15px;height:15px;border-radius:50%;background:#2fd27a"></div>
<div class="t" style="top:1261.3px;font-size:30px;color:#222;letter-spacing:0.85px;left:143.5px;-webkit-text-stroke:0.75px #222;">229 m</div>
<div class="t" style="top:1304.6px;font-size:29px;color:#9b9b9b;letter-spacing:-0.25px;left:143.0px;">Kleinste Steigung</div>
<div class="t" style="top:1261.3px;font-size:30px;color:#222;letter-spacing:0.85px;left:577.0px;-webkit-text-stroke:0.75px #222;">381 m</div>
<div class="t" style="top:1304.6px;font-size:29px;color:#9b9b9b;letter-spacing:-0.3px;left:576.5px;">Größte Steigung</div>
<div class="abs" style="left:466.5px;top:1255.0px;width:3px;height:82px;background:#f6f6f6"></div>
<div class="abs" style="left:105px;top:1407.0px;width:15px;height:15px;border-radius:50%;background:#f2887a"></div>
<div class="t" style="top:1379.8px;font-size:30px;color:#222;letter-spacing:0.85px;left:143.5px;-webkit-text-stroke:0.75px #222;">104 bpm</div>
<div class="t" style="top:1423.1px;font-size:29px;color:#9b9b9b;letter-spacing:-0.25px;left:143.0px;">Durchschn. HF</div>
<div class="t" style="top:1379.8px;font-size:30px;color:#222;letter-spacing:0.85px;left:577.0px;-webkit-text-stroke:0.75px #222;">124 bpm</div>
<div class="t" style="top:1423.1px;font-size:29px;color:#9b9b9b;letter-spacing:-0.3px;left:576.5px;">Maximaler Puls</div>
<div class="abs" style="left:466.5px;top:1373.5px;width:3px;height:82px;background:#f6f6f6"></div>
<div class="t" style="top:1526.2px;font-size:34px;color:#222;letter-spacing:0.6px;left:57.5px;-webkit-text-stroke:0.85px #222;">Pulsbereiche</div>
<svg class="abs" style="left:280px;top:1512px" width="60" height="60"><circle cx="30" cy="31.3" r="22.1" fill="none" stroke="#585858" stroke-width="2.9"/><circle cx="29.7" cy="19.8" r="2.2" fill="#585858"/><path d="M28.5 26.5 L31.3 26.5 L31.3 45 L28.5 45 L28.5 28.8 L27.3 28.8 Z" fill="#585858"/></svg>
<div class="t" style="top:1622.4px;font-size:30.5px;color:#222;letter-spacing:0.05px;left:58.0px;">5. Maximum</div>
<div class="t" style="top:1622.4px;font-size:30.5px;color:#a3a3a3;letter-spacing:0.6px;left:348.0px;">0m</div>
<div class="t" style="top:1622.4px;font-size:30.5px;color:#a3a3a3;letter-spacing:-0.2px;left:426.0px;">0,0</div>
<div class="t" style="top:1622.4px;font-size:30.5px;color:#a3a3a3;left:474.3px;transform:scaleX(0.82);transform-origin:0 0;">%</div>
<div class="abs" style="left:408px;top:1630.0px;width:1.5px;height:17px;background:#c8c8c8"></div>
<div class="abs" style="left:537px;top:1633.5px;width:307px;height:9px;border-radius:5px;background:#e8eaec"></div>
<div class="t" style="top:1708.9px;font-size:30.5px;color:#222;letter-spacing:0.05px;left:58.0px;">4. Anaerobe Zone</div>
<div class="t" style="top:1708.9px;font-size:30.5px;color:#a3a3a3;letter-spacing:0.6px;left:348.0px;">0m</div>
<div class="t" style="top:1708.9px;font-size:30.5px;color:#a3a3a3;letter-spacing:-0.2px;left:426.0px;">0,0</div>
<div class="t" style="top:1708.9px;font-size:30.5px;color:#a3a3a3;left:474.3px;transform:scaleX(0.82);transform-origin:0 0;">%</div>
<div class="abs" style="left:408px;top:1716.5px;width:1.5px;height:17px;background:#c8c8c8"></div>
<div class="abs" style="left:537px;top:1720.0px;width:307px;height:9px;border-radius:5px;background:#e8eaec"></div>
<div class="t" style="top:1795.4px;font-size:30.5px;color:#222;letter-spacing:0.05px;left:58.0px;">3. Aerobe Zone</div>
<div class="t" style="top:1795.4px;font-size:30.5px;color:#a3a3a3;letter-spacing:0.7px;left:348.0px;">19m</div>
<div class="t" style="top:1795.4px;font-size:30.5px;color:#a3a3a3;letter-spacing:-0.3px;left:443.0px;">31,<span style="letter-spacing:-2.1px">...</span></div>
<div class="abs" style="left:425px;top:1803.0px;width:1.5px;height:17px;background:#c8c8c8"></div>
<div class="abs" style="left:537px;top:1806.5px;width:307px;height:9px;border-radius:5px;background:#e8eaec"></div>
<div class="abs" style="left:537px;top:1806.5px;width:97px;height:9px;border-radius:5px;background:#f56d10"></div>
<div class="abs" style="left:176px;top:1884.5px;width:2px;height:2px;background:#999;border-radius:1px"></div><div class="abs" style="left:219px;top:1884.5px;width:2px;height:2px;background:#999;border-radius:1px"></div>
<svg class="abs" style="left:0;top:1900px" width="900" height="100"><rect x="180" y="27" width="4.2" height="34.5" rx="2.1" fill="#858585"/><rect x="194.5" y="27" width="4.2" height="34.5" rx="2.1" fill="#858585"/><rect x="209" y="27" width="4.2" height="34.5" rx="2.1" fill="#858585"/><rect x="431" y="27.5" width="34" height="34" rx="11" fill="none" stroke="#858585" stroke-width="4.4"/><path d="M709 29 L691 44.5 L709 60" fill="none" stroke="#858585" stroke-width="4.2" stroke-linecap="round" stroke-linejoin="round"/></svg>
</body></html>
